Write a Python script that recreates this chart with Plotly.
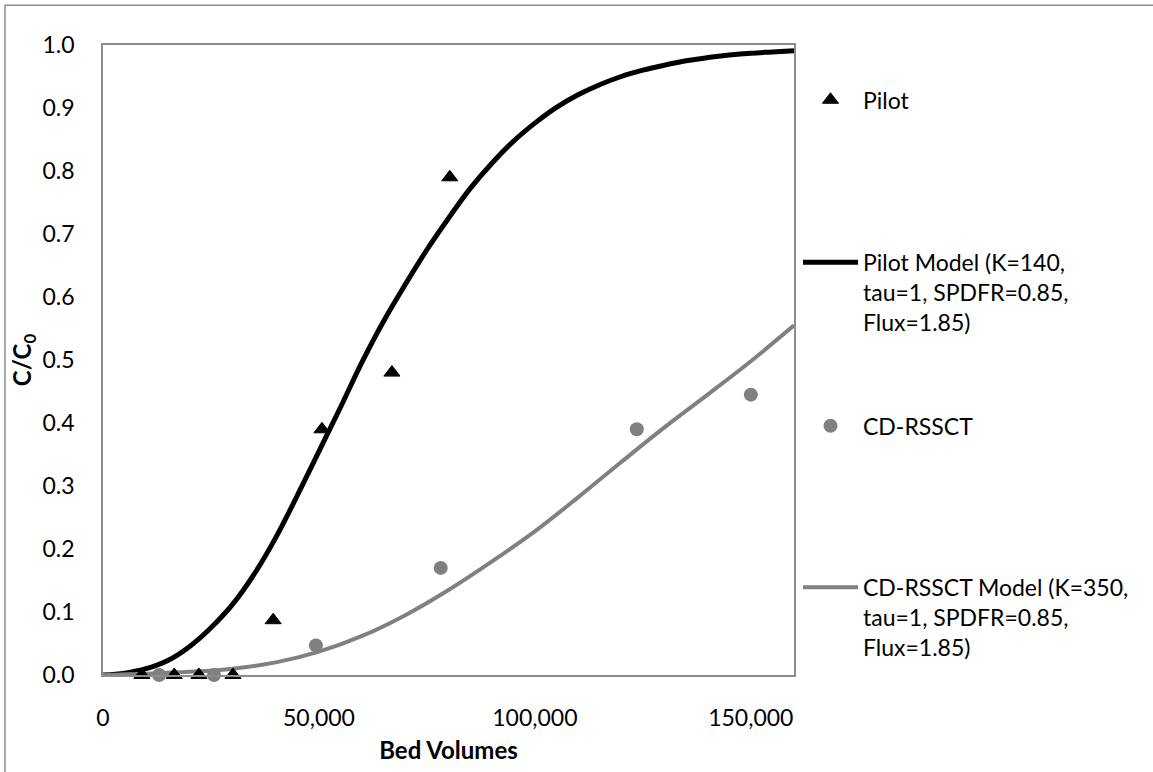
import plotly.graph_objects as go

# ---- data ----
pilot_bv = [9000, 16500, 22200, 30100, 39400, 50700, 66900, 80300]
pilot_c = [0.0, 0.0, 0.0, 0.0, 0.087, 0.39, 0.48, 0.79]

rssct_bv = [13000, 25700, 49300, 78200, 123600, 150000]
rssct_c = [0.0, 0.0, 0.047, 0.17, 0.39, 0.445]

pilot_model_bv = [0, 5000, 10000, 15000, 20000, 25000, 30000, 35000, 40000, 45000,
                  50000, 55000, 60000, 65000, 70000, 75000, 80000, 85000, 90000,
                  95000, 100000, 105000, 110000, 115000, 120000, 125000, 130000,
                  135000, 140000, 145000, 150000, 155000, 160000]
pilot_model_c = [0.000, 0.003, 0.010, 0.023, 0.045, 0.075, 0.112, 0.160, 0.218, 0.285,
                 0.355, 0.425, 0.497, 0.562, 0.620, 0.675, 0.725, 0.772, 0.812,
                 0.847, 0.876, 0.901, 0.921, 0.937, 0.950, 0.960, 0.968,
                 0.975, 0.980, 0.984, 0.987, 0.989, 0.991]

rssct_model_bv = [0, 10000, 20000, 30000, 40000, 50000, 60000, 70000, 80000, 90000,
                  100000, 110000, 120000, 130000, 140000, 150000, 160000]
rssct_model_c = [0.000, 0.002, 0.005, 0.010, 0.020, 0.037, 0.062, 0.095, 0.135, 0.180,
                 0.228, 0.282, 0.338, 0.393, 0.445, 0.498, 0.555]

x_tickvals = [0, 50000, 100000, 150000]
x_ticktext = ["0", "50,000", "100,000", "150,000"]
y_tickvals = [0.0, 0.1, 0.2, 0.3, 0.4, 0.5, 0.6, 0.7, 0.8, 0.9, 1.0]

names = ["Pilot",
         "Pilot Model (K=140,<br>tau=1, SPDFR=0.85,<br>Flux=1.85)",
         "CD-RSSCT",
         "CD-RSSCT Model (K=350,<br>tau=1, SPDFR=0.85,<br>Flux=1.85)"]

FONT = "Lato"
W, H = 1153, 772
ML, MR, MT, MB = 103, 359, 45, 95
PW, PH = W - ML - MR, H - MT - MB


def px(xp):
    return (xp - ML) / PW


def py(yp):
    return (H - MB - yp) / PH


fig = go.Figure()

fig.add_trace(go.Scatter(
    x=pilot_model_bv, y=pilot_model_c, mode="lines", name=names[1],
    line=dict(color="black", width=5, shape="spline", smoothing=1.0),
    legend="legend2"))
fig.add_trace(go.Scatter(
    x=rssct_model_bv, y=rssct_model_c, mode="lines", name=names[3],
    line=dict(color="#808080", width=4, shape="spline", smoothing=1.0),
    legend="legend4"))
fig.add_trace(go.Scatter(
    x=pilot_bv, y=pilot_c, mode="markers", name=names[0],
    marker=dict(symbol="triangle-up", size=14, color="black",
                line=dict(color="black", width=1)),
    cliponaxis=False, legend="legend"))
fig.add_trace(go.Scatter(
    x=rssct_bv, y=rssct_c, mode="markers", name=names[2],
    marker=dict(symbol="circle", size=14, color="#808080"),
    cliponaxis=False, legend="legend3"))

leg_common = dict(bgcolor="rgba(0,0,0,0)", borderwidth=0,
                  font=dict(family=FONT, size=23, color="black"),
                  valign="top", itemwidth=55, xanchor="left", yanchor="middle",
                  tracegroupgap=0)
lx = px(798)
fig.update_layout(
    legend=dict(x=lx, y=py(100), **leg_common),
    legend2=dict(x=lx, y=py(293), **leg_common),
    legend3=dict(x=lx, y=py(427), **leg_common),
    legend4=dict(x=lx, y=py(619), **leg_common),
)

fig.update_layout(
    width=W, height=H,
    margin=dict(l=ML, r=MR, t=MT, b=MB, pad=0),
    paper_bgcolor="white", plot_bgcolor="white",
    font=dict(family=FONT, size=23, color="black"),
    showlegend=True,
    xaxis=dict(range=[0, 160000], tickvals=x_tickvals, ticktext=x_ticktext,
               showgrid=False, zeroline=False, showline=True, mirror=True,
               linecolor="#8c8c8c", linewidth=1.5, ticks="",
               ticklabelstandoff=22,
               tickfont=dict(family=FONT, size=23, color="black"),
               title=dict(text="<b>Bed Volumes</b>", standoff=12,
                          font=dict(family=FONT, size=24, color="black"))),
    yaxis=dict(range=[0, 1], tickvals=y_tickvals, tickformat=".1f",
               showgrid=False, zeroline=False, showline=True, mirror=True,
               linecolor="#8c8c8c", linewidth=1.5, ticks="",
               ticklabelstandoff=22,
               tickfont=dict(family=FONT, size=23, color="black"),
               title=dict(text="<b>C/C<sub>0</sub></b>", standoff=4,
                          font=dict(family=FONT, size=24, color="black"))),
)

# outer chart border (extends beyond the visible window on right/bottom)
fig.add_shape(type="rect", xref="paper", yref="paper",
              x0=px(5), x1=px(W + 60), y0=py(H + 60), y1=py(5),
              line=dict(color="#8c8c8c", width=1.5), fillcolor="rgba(0,0,0,0)",
              layer="below")

fig.write_html("out.html")
